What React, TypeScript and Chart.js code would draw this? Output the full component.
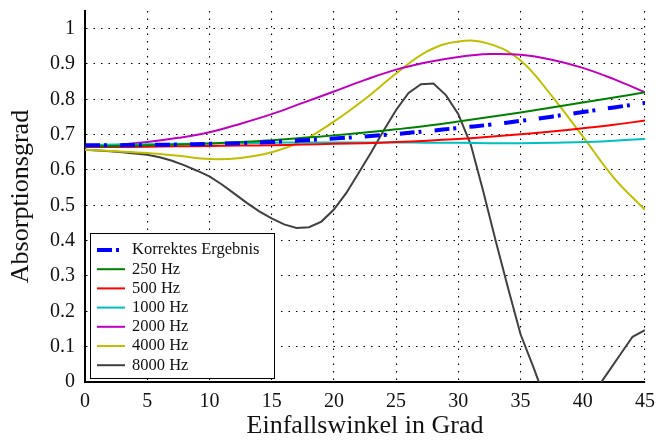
import React, { useEffect, useRef } from "react";
import { Chart, registerables } from "chart.js";

Chart.register(...registerables);

// x values (Einfallswinkel in Grad)
const anglesCoarse = [0, 2.5, 5, 7.5, 10, 12.5, 15, 17.5, 20, 22.5, 25, 27.5, 30, 32.5, 35, 37.5, 40, 42.5, 45];
const anglesFine = [0, 1, 2, 3, 4, 5, 6, 7, 8, 9, 10, 11, 12, 13, 14, 15, 16, 17, 18, 19, 20, 21, 22, 23, 24, 25, 26, 27, 28, 29, 30, 31, 32, 33, 34, 35, 36, 37, 38, 39, 40, 41, 42, 43, 44, 45];

const seriesLabels = ["Korrektes Ergebnis", "250 Hz", "500 Hz", "1000 Hz", "2000 Hz", "4000 Hz", "8000 Hz"];

const korrekt = [0.670, 0.670, 0.671, 0.672, 0.674, 0.676, 0.679, 0.684, 0.689, 0.695, 0.702, 0.710, 0.719, 0.728, 0.739, 0.751, 0.764, 0.777, 0.790];
const hz250 = [0.667, 0.668, 0.670, 0.672, 0.675, 0.679, 0.684, 0.691, 0.698, 0.706, 0.715, 0.725, 0.737, 0.750, 0.763, 0.777, 0.791, 0.805, 0.820];
const hz500 = [0.665, 0.665, 0.666, 0.667, 0.668, 0.669, 0.670, 0.672, 0.674, 0.676, 0.679, 0.683, 0.688, 0.694, 0.701, 0.709, 0.718, 0.728, 0.740];
const hz1000 = [0.671, 0.672, 0.673, 0.674, 0.675, 0.676, 0.677, 0.678, 0.678, 0.678, 0.678, 0.677, 0.677, 0.676, 0.676, 0.677, 0.679, 0.683, 0.688];
const hz2000 = [0.667, 0.671, 0.679, 0.691, 0.707, 0.731, 0.758, 0.790, 0.822, 0.855, 0.884, 0.905, 0.920, 0.928, 0.926, 0.912, 0.889, 0.857, 0.820];
const hz4000 = [0.657, 0.653, 0.648, 0.640, 0.631, 0.634, 0.650, 0.683, 0.737, 0.801, 0.873, 0.936, 0.964, 0.957, 0.910, 0.810, 0.695, 0.578, 0.487];
const hz8000 = [0.657, 0.655, 0.653, 0.650, 0.647, 0.643, 0.636, 0.626, 0.613, 0.598, 0.582, 0.559, 0.533, 0.507, 0.483, 0.463, 0.446, 0.436, 0.438, 0.454, 0.488, 0.535, 0.592, 0.650, 0.712, 0.770, 0.818, 0.843, 0.845, 0.812, 0.758, 0.672, 0.540, 0.400, 0.265, 0.135, 0.045, -0.050, -0.120, -0.150, -0.110, -0.025, 0.026, 0.077, 0.128, 0.147];

const FONT = '"Liberation Serif", "DejaVu Serif", serif';

const pts = (xs: number[], ys: number[]) => xs.map((x, i) => ({ x, y: ys[i] }));

const boxLegend = {
  id: "boxLegend",
  afterDatasetsDraw(chart: any) {
    const { ctx, chartArea } = chart;
    const bx = chartArea.left + 5.5;
    const by = chartArea.bottom - 148.5;
    const bw = 184;
    const bh = 145;
    ctx.save();
    ctx.fillStyle = "#ffffff";
    ctx.fillRect(bx, by, bw, bh);
    ctx.strokeStyle = "#000000";
    ctx.lineWidth = 1;
    ctx.setLineDash([]);
    ctx.strokeRect(bx, by, bw, bh);
    chart.data.datasets.forEach((ds: any, i: number) => {
      const y = by + 16.5 + i * 19.2;
      ctx.beginPath();
      ctx.setLineDash(ds.borderDash || []);
      ctx.lineCap = "butt";
      ctx.strokeStyle = ds.borderColor;
      ctx.lineWidth = ds.borderWidth;
      ctx.moveTo(bx + 6.5, y);
      ctx.lineTo(bx + 34.5, y);
      ctx.stroke();
      ctx.setLineDash([]);
      ctx.fillStyle = "#111111";
      ctx.font = `16.5px ${FONT}`;
      ctx.textBaseline = "middle";
      ctx.textAlign = "left";
      ctx.fillText(ds.label, bx + 41.5, y);
    });
    ctx.restore();
  },
};

export default function App() {
  const canvasRef = useRef<HTMLCanvasElement | null>(null);

  useEffect(() => {
    if (!canvasRef.current) return;
    const gridDash = [1.5, 6];
    const chart = new Chart(canvasRef.current, {
      type: "line",
      data: {
        datasets: [
          { label: seriesLabels[0], data: pts(anglesCoarse, korrekt), borderColor: "#0000ff", borderWidth: 4, borderDash: [15, 4, 3, 13], tension: 0.4 },
          { label: seriesLabels[1], data: pts(anglesCoarse, hz250), borderColor: "#008000", borderWidth: 2, tension: 0.4 },
          { label: seriesLabels[2], data: pts(anglesCoarse, hz500), borderColor: "#ff0000", borderWidth: 2, tension: 0.4 },
          { label: seriesLabels[3], data: pts(anglesCoarse, hz1000), borderColor: "#00bfbf", borderWidth: 2, tension: 0.4 },
          { label: seriesLabels[4], data: pts(anglesCoarse, hz2000), borderColor: "#bf00bf", borderWidth: 2, tension: 0.4 },
          { label: seriesLabels[5], data: pts(anglesCoarse, hz4000), borderColor: "#bfbf00", borderWidth: 2, tension: 0.4 },
          { label: seriesLabels[6], data: pts(anglesFine, hz8000), borderColor: "#404040", borderWidth: 2, tension: 0, clip: 0 },
        ] as any,
      },
      options: {
        animation: false,
        responsive: false,
        maintainAspectRatio: false,
        layout: { padding: { top: 11, right: 11, left: 0, bottom: 0 } },
        elements: { point: { radius: 0 } },
        plugins: {
          legend: { display: false },
          tooltip: { enabled: false },
        },
        scales: {
          x: {
            type: "linear",
            min: 0,
            max: 45,
            ticks: {
              stepSize: 5,
              padding: 8,
              maxRotation: 0,
              autoSkip: false,
              color: "#111",
              font: { family: FONT, size: 20 },
            },
            grid: { color: "#000", lineWidth: 1.1, drawTicks: false, tickLength: 0 },
            border: { display: true, color: "#000", width: 2, dash: gridDash },
            title: {
              display: true,
              text: "Einfallswinkel in Grad",
              color: "#111",
              font: { family: FONT, size: 26 },
              padding: { top: 0, bottom: 2 },
            },
            afterFit: (s: any) => {
              s.height = 62;
              s.paddingLeft = 0;
              s.paddingRight = 0;
            },
          },
          y: {
            type: "linear",
            min: 0,
            max: 1.05,
            ticks: {
              stepSize: 0.1,
              includeBounds: false,
              padding: 10,
              color: "#111",
              font: { family: FONT, size: 20 },
              callback: (v: any) => String(Math.round(Number(v) * 10) / 10),
            },
            grid: { color: "#000", lineWidth: 1.1, drawTicks: false, tickLength: 0 },
            border: { display: true, color: "#000", width: 2, dash: gridDash },
            title: {
              display: true,
              text: "Absorptionsgrad",
              color: "#111",
              font: { family: FONT, size: 26 },
              padding: { top: 6, bottom: 0 },
            },
            afterFit: (s: any) => {
              s.width = 85;
              s.paddingTop = 0;
              s.paddingBottom = 0;
            },
          },
        },
      } as any,
      plugins: [boxLegend],
    });
    return () => chart.destroy();
  }, []);

  return (
    <div style={{ position: "fixed", left: 0, top: 0, width: 656, height: 444, background: "#fff" }}>
      <canvas ref={canvasRef} width={656} height={444} style={{ display: "block", width: 656, height: 444 }} />
    </div>
  );
}
